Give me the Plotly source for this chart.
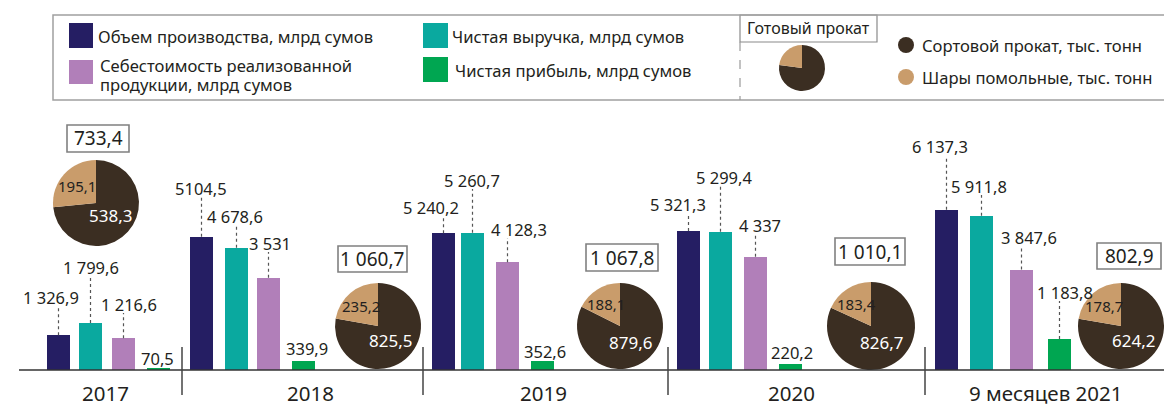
import math
import plotly.graph_objects as go

# ---------------- data ----------------
periods = ["2017", "2018", "2019", "2020", "9 месяцев 2021"]
production = [1326.9, 5104.5, 5240.2, 5321.3, 6137.3]      # Объем производства
revenue = [1799.6, 4678.6, 5260.7, 5299.4, 5911.8]         # Чистая выручка
cost = [1216.6, 3531, 4128.3, 4337, 3847.6]                # Себестоимость
profit = [70.5, 339.9, 352.6, 220.2, 1183.8]               # Чистая прибыль
production_lbl = ["1 326,9", "5104,5", "5 240,2", "5 321,3", "6 137,3"]
revenue_lbl = ["1 799,6", "4 678,6", "5 260,7", "5 299,4", "5 911,8"]
cost_lbl = ["1 216,6", "3 531", "4 128,3", "4 337", "3 847,6"]
profit_lbl = ["70,5", "339,9", "352,6", "220,2", "1 183,8"]

section_steel = [538.3, 825.5, 879.6, 826.7, 624.2]       # Сортовой прокат
grinding_balls = [195.1, 235.2, 188.1, 183.4, 178.7]      # Шары помольные
rolled_total_lbl = ["733,4", "1 060,7", "1 067,8", "1 010,1", "802,9"]
legend_pie = [77, 23]

# ---------------- layout helpers (pixels) ----------------
W, H = 1164, 406
BASE = 370          # baseline pixel row
K = 38.3            # data units per pixel


def ypx(p):
    return (BASE - p) * K


def px(x):
    return x / W


def py(y):
    return 1 - y / H


FONT = "Noto Sans"
TXT = "#231f20"
C_NAVY, C_TEAL, C_PURP, C_GREEN = "#251e63", "#0aa99f", "#b17fb9", "#00a651"
C_DARK, C_TAN = "#3b2e22", "#c99c6b"

series = [
    (production, production_lbl, C_NAVY, "Объем производства, млрд сумов"),
    (revenue, revenue_lbl, C_TEAL, "Чистая выручка, млрд сумов"),
    (cost, cost_lbl, C_PURP, "Себестоимость реализованной продукции, млрд сумов"),
    (profit, profit_lbl, C_GREEN, "Чистая прибыль, млрд сумов"),
]
# bar centres (pixels) per series, per period
bar_x = [
    [58.5, 201.5, 443.5, 688.5, 946.5],
    [90.5, 236.5, 472.5, 720.5, 981.5],
    [123.5, 268.5, 507.5, 755.5, 1021.5],
    [158.5, 303.5, 542.5, 790.5, 1059.5],
]
BAR_W = 23
# label centres (pixels) per series, per period
lbl_pos = [
    [(51, 297), (201, 188), (431, 207), (678, 204), (940, 147)],
    [(91, 267), (235, 216), (472, 180), (724, 177), (979, 186)],
    [(129, 304), (270, 243), (519, 229), (760, 225), (1029, 238)],
    [(157, 358), (307, 348), (545, 351), (792, 352), (1065, 292)],
]
leader = [
    [True] * 5,
    [True] * 5,
    [True] * 5,
    [False, False, False, False, True],
]
year_x = [105, 310, 543, 791, 1045]
sep_x = [182, 423, 668, 925]
pie_geo = [(96, 203, 43), (378, 326, 43), (620, 326, 43), (871, 326, 44), (1121, 326, 43)]
box_geo = [(67, 129, 125, 152), (338, 407, 246, 272), (586, 658, 244, 271),
           (835, 905, 238, 265), (1097, 1161, 243, 269)]

fig = go.Figure()
shapes = []
annotations = []


def ann(x, y, text, size, color=TXT, xanchor="center"):
    annotations.append(dict(x=px(x), y=py(y), xref="paper", yref="paper", text=text, showarrow=False,
                            xanchor=xanchor, yanchor="middle", align="left" if xanchor == "left" else "center",
                            borderpad=0, font=dict(family=FONT, size=size, color=color)))


for si, (vals, lbls, col, name) in enumerate(series):
    fig.add_trace(go.Bar(x=bar_x[si], y=vals, width=BAR_W, marker=dict(color=col, line=dict(width=0)),
                         name=name, showlegend=False, hoverinfo="y"))
    for pi, v in enumerate(vals):
        lx, ly = lbl_pos[si][pi]
        ann(lx, ly, lbls[pi], 16.5)
        if leader[si][pi]:
            bx = bar_x[si][pi]
            shapes.append(dict(type="line", xref="x", yref="y", x0=bx, x1=bx, y0=v, y1=ypx(ly + 9),
                               line=dict(color="#555555", width=1.2, dash="dot")))

# pies
for i in range(5):
    cx, cy, r = pie_geo[i]
    fig.add_trace(go.Pie(values=[section_steel[i], grinding_balls[i]], labels=["Сортовой прокат", "Шары помольные"],
                         marker=dict(colors=[C_DARK, C_TAN], line=dict(width=0)),
                         sort=False, direction="clockwise", rotation=0, textinfo="none",
                         showlegend=False, hoverinfo="label+value",
                         domain=dict(x=[px(cx - r), px(cx + r)], y=[py(cy + r), py(cy - r)])))
    tot = section_steel[i] + grinding_balls[i]
    fd, ft = section_steel[i] / tot, grinding_balls[i] / tot
    a_t = math.radians(360 - ft * 180)
    a_d = math.radians(fd * 180)
    tx, ty = cx + 0.6 * r * math.sin(a_t), cy - 0.6 * r * math.cos(a_t)
    dx, dy = cx + 0.45 * r * math.sin(a_d), cy - 0.45 * r * math.cos(a_d)
    ann(tx, ty, f"{grinding_balls[i]:.1f}".replace(".", ","), 15)
    ann(dx, dy, f"{section_steel[i]:.1f}".replace(".", ","), 17, color="white")
    x0, x1, y0, y1 = box_geo[i]
    shapes.append(dict(type="rect", xref="paper", yref="paper", x0=px(x0), x1=px(x1), y0=py(y1), y1=py(y0),
                       line=dict(color="#808080", width=1.6), fillcolor="white", layer="below"))
    ann((x0 + x1) / 2, (y0 + y1) / 2, rolled_total_lbl[i], 19)

# axis line, separators, year labels
shapes.append(dict(type="line", xref="paper", yref="paper", x0=px(19), x1=px(1164), y0=py(BASE), y1=py(BASE),
                   line=dict(color="#333333", width=1.5)))
for sx in sep_x:
    shapes.append(dict(type="line", xref="paper", yref="paper", x0=px(sx), x1=px(sx), y0=py(347), y1=py(395),
                       line=dict(color="#444444", width=1.5)))
for i, p in enumerate(periods):
    ann(year_x[i], 393, p, 20.5)

# ---------------- legend block ----------------
shapes.append(dict(type="rect", xref="paper", yref="paper", x0=px(53), x1=px(1170), y0=py(100), y1=py(15),
                   line=dict(color="#a0a0a0", width=1.5), fillcolor="rgba(0,0,0,0)"))
shapes.append(dict(type="line", xref="paper", yref="paper", x0=px(740), x1=px(740), y0=py(42), y1=py(100),
                   line=dict(color="#9a9a9a", width=1.2, dash="dash")))
shapes.append(dict(type="rect", xref="paper", yref="paper", x0=px(740), x1=px(877), y0=py(42), y1=py(15),
                   line=dict(color="#8a8a8a", width=1.2), fillcolor="white", layer="below"))
ann(808.5, 28.5, "Готовый прокат", 16)
for (x0, y0, x1, y1, col) in [(69, 23, 93, 48, C_NAVY), (69, 60, 93, 84, C_PURP),
                              (423, 23, 448, 48, C_TEAL), (423, 57, 448, 82, C_GREEN)]:
    shapes.append(dict(type="rect", xref="paper", yref="paper", x0=px(x0), x1=px(x1), y0=py(y1), y1=py(y0),
                       line=dict(width=0), fillcolor=col))
for (x, y, t) in [(97, 36, "Объем производства, млрд сумов"), (99, 65.5, "Себестоимость реализованной"),
                  (99, 84.5, "продукции, млрд сумов"), (451, 36, "Чистая выручка, млрд сумов"),
                  (454, 71, "Чистая прибыль, млрд сумов"), (921, 45, "Сортовой прокат, тыс. тонн"),
                  (921, 77, "Шары помольные, тыс. тонн")]:
    ann(x, y, t, 16.6, xanchor="left")
for (cx, cy, col) in [(906, 45, C_DARK), (906, 77, C_TAN)]:
    shapes.append(dict(type="circle", xref="paper", yref="paper", x0=px(cx - 8), x1=px(cx + 8),
                       y0=py(cy + 8), y1=py(cy - 8), line=dict(width=0), fillcolor=col))
fig.add_trace(go.Pie(values=legend_pie, labels=["Сортовой прокат", "Шары помольные"],
                     marker=dict(colors=[C_DARK, C_TAN], line=dict(width=0)), sort=False,
                     direction="clockwise", rotation=0, textinfo="none", showlegend=False, hoverinfo="skip",
                     domain=dict(x=[px(802 - 23), px(802 + 23)], y=[py(68 + 23), py(68 - 23)])))

fig.update_layout(
    width=W, height=H, margin=dict(l=0, r=0, t=0, b=0, pad=0),
    paper_bgcolor="white", plot_bgcolor="white", showlegend=False, bargap=0,
    xaxis=dict(visible=False, range=[0, W], domain=[0, 1], fixedrange=True),
    yaxis=dict(visible=False, range=[ypx(H), ypx(0)], domain=[0, 1], fixedrange=True),
    shapes=shapes, annotations=annotations,
)
fig.write_html("out.html", config={"displayModeBar": False},
               post_script="document.body.style.margin='0';document.body.style.overflow='hidden';")
